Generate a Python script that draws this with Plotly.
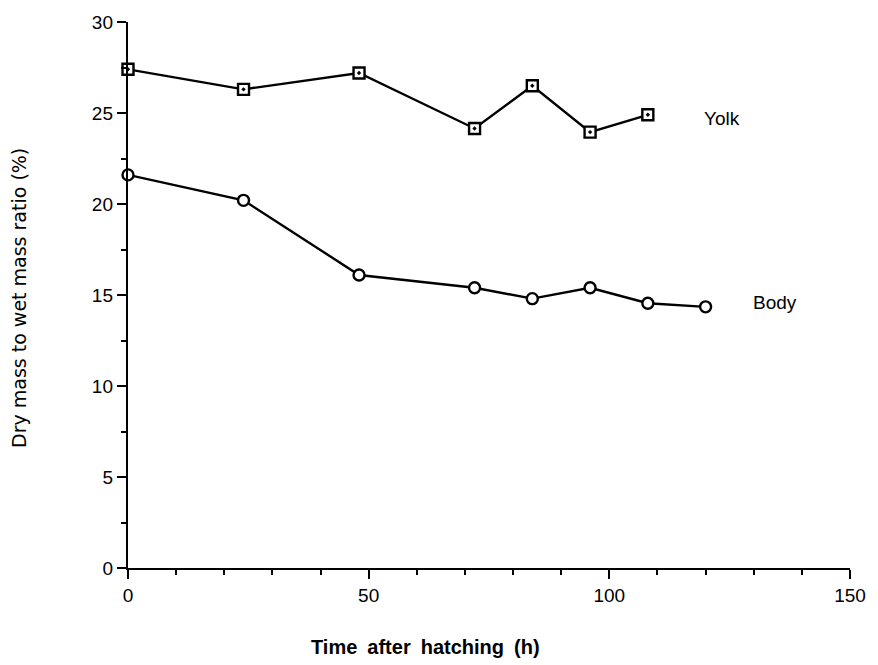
import plotly.graph_objects as go

time_yolk = [0, 24, 48, 72, 84, 96, 108]
ratio_yolk = [27.4, 26.3, 27.2, 24.15, 26.5, 23.95, 24.9]
time_body = [0, 24, 48, 72, 84, 96, 108, 120]
ratio_body = [21.6, 20.2, 16.1, 15.4, 14.8, 15.4, 14.55, 14.35]

x_ticks = [0, 50, 100, 150]
y_ticks = [0, 5, 10, 15, 20, 25, 30]

FONT = "Liberation Sans, Arial, Helvetica, sans-serif"

fig = go.Figure()
fig.add_trace(go.Scatter(
    x=time_yolk, y=ratio_yolk, mode="lines+markers", name="Yolk",
    line=dict(color="black", width=2.4),
    marker=dict(symbol="square-dot", size=11, color="white",
                line=dict(color="black", width=2.4)),
    cliponaxis=False, showlegend=False))
fig.add_trace(go.Scatter(
    x=time_body, y=ratio_body, mode="lines+markers", name="Body",
    line=dict(color="black", width=2.4),
    marker=dict(symbol="circle", size=11, color="white",
                line=dict(color="black", width=2.4)),
    cliponaxis=False, showlegend=False))

fig.add_annotation(x=119.3, y=24.7, text="Yolk",
                   showarrow=False, xanchor="left",
                   font=dict(family=FONT, size=19, color="black"))
fig.add_annotation(x=129.5, y=14.6, text="Body",
                   showarrow=False, xanchor="left",
                   font=dict(family=FONT, size=19, color="black"))

fig.add_annotation(x=0.412, y=-0.144, xref="paper", yref="paper",
                   text="<b>Time\u2002after\u2002hatching\u2002(h)</b>",
                   showarrow=False, xanchor="center", yanchor="middle",
                   font=dict(family=FONT, size=20, color="black"))
fig.add_annotation(x=-0.152, y=0.495, xref="paper", yref="paper",
                   text="Dry mass to wet mass ratio (%)", textangle=-90,
                   showarrow=False, xanchor="center", yanchor="middle",
                   font=dict(family="DejaVu Sans, Liberation Sans, sans-serif", size=19, color="black"))

fig.update_xaxes(range=[0, 150], tickvals=x_ticks, ticks="outside", ticklen=9,
                 tickwidth=2.2, tickcolor="black", showline=True, linecolor="black",
                 linewidth=2.4, showgrid=False, zeroline=False,
                 minor=dict(dtick=10, tick0=0, ticks="outside", ticklen=5,
                            tickwidth=2.2, tickcolor="black", showgrid=False),
                 tickfont=dict(family=FONT, size=19, color="black"))
fig.update_yaxes(range=[0, 30], tickvals=y_ticks, ticks="outside", ticklen=9,
                 tickwidth=2.2, tickcolor="black", showline=True, linecolor="black",
                 linewidth=2.4, showgrid=False, zeroline=False,
                 minor=dict(dtick=2.5, tick0=0, ticks="outside", ticklen=5,
                            tickwidth=2.2, tickcolor="black", showgrid=False),
                 tickfont=dict(family=FONT, size=19, color="black"))

fig.update_layout(width=878, height=665, margin=dict(l=128, r=27, t=20, b=97),
                  plot_bgcolor="white", paper_bgcolor="white")

fig.write_html("out.html")
